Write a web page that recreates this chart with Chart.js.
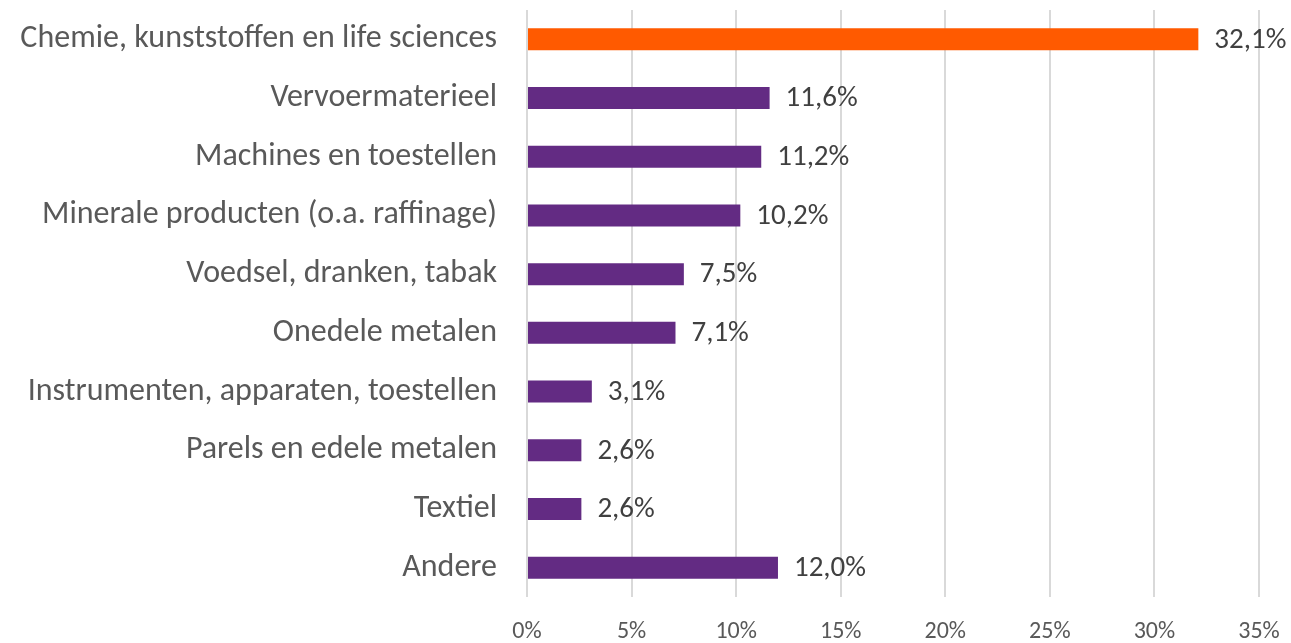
<!DOCTYPE html>
<html>
<head>
<meta charset="utf-8">
<script src="https://cdn.jsdelivr.net/npm/chart.js@4"></script>
<style>
    body { margin: 0; background: #fff; }
    #wrap { width: 1291px; height: 643px; }
</style>
</head>
<body>
<div id="wrap"><canvas id="sectorChart"></canvas></div>
<script>
// ================= DATA =================

const categories = [
    "Chemie, kunststoffen en life sciences",
    "Vervoermaterieel",
    "Machines en toestellen",
    "Minerale producten (o.a. raffinage)",
    "Voedsel, dranken, tabak",
    "Onedele metalen",
    "Instrumenten, apparaten, toestellen",
    "Parels en edele metalen",
    "Textiel",
    "Andere",
];
const shares = [32.1, 11.6, 11.2, 10.2, 7.5, 7.1, 3.1, 2.6, 2.6, 12.0];
const xTicks = [0, 5, 10, 15, 20, 25, 30, 35];

const ORANGE = "#ff5a00";
const PURPLE = "#632b83";
const TEXT = "#595959";
const FONT = "Carlito, Calibri, 'Open Sans', sans-serif";

const barColors = shares.map((_, i) => (i === 0 ? ORANGE : PURPLE));

function fmt(v) {
    return v.toFixed(1).replace(".", ",") + "%";
}

// ================= LABEL PLUGIN =================

const valueLabels = {
    id: "valueLabels",
    afterDatasetsDraw(chart) {
        const ctx = chart.ctx;
        const meta = chart.getDatasetMeta(0);
        ctx.save();
        ctx.font = "29px " + FONT;
        ctx.fillStyle = "#404040";
        ctx.textAlign = "left";
        ctx.textBaseline = "middle";
        meta.data.forEach((bar, i) => {
            ctx.fillText(fmt(shares[i]), bar.x + 16, bar.y + 1);
        });
        ctx.restore();
    },
};

// ================= CHART =================

new Chart(document.getElementById("sectorChart"), {
    type: "bar",
    data: {
        labels: categories,
        datasets: [
            {
                data: shares,
                backgroundColor: barColors,
                barPercentage: 0.375,
                categoryPercentage: 1,
            },
        ],
    },
    options: {
        indexAxis: "y",
        responsive: true,
        maintainAspectRatio: false,
        animation: false,
        layout: { padding: { top: 10, right: 32, left: 0, bottom: 0 } },
        plugins: { legend: { display: false }, tooltip: { enabled: false } },
        scales: {
            x: {
                min: 0,
                max: 35,
                afterBuildTicks: (axis) => {
                    axis.ticks = xTicks.map((v) => ({ value: v }));
                },
                afterFit: (axis) => {
                    axis.height = 46;
                    axis.paddingTop = 0;
                    axis.paddingBottom = 0;
                    axis.paddingLeft = 0;
                    axis.paddingRight = 0;
                },
                grid: { color: "#d9d9d9", lineWidth: 2, drawTicks: false },
                border: { display: false },
                ticks: {
                    color: TEXT,
                    padding: 21,
                    font: { family: FONT, size: 24 },
                    callback: (v) => v + "%",
                },
            },
            y: {
                afterFit: (axis) => {
                    axis.width = 527;
                    axis.paddingTop = 0;
                    axis.paddingBottom = 0;
                },
                grid: { display: false, drawTicks: false },
                border: { display: false },
                ticks: {
                    color: TEXT,
                    padding: 30,
                    font: { family: FONT, size: 32 },
                },
            },
        },
    },
    plugins: [valueLabels],
});
</script>
</body>
</html>
